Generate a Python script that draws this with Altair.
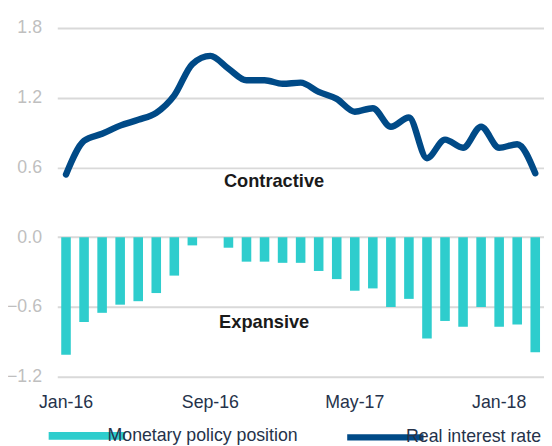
import altair as alt
import pandas as pd

months = ["Jan-16", "Feb-16", "Mar-16", "Apr-16", "May-16", "Jun-16", "Jul-16", "Aug-16",
          "Sep-16", "Oct-16", "Nov-16", "Dec-16", "Jan-17", "Feb-17", "Mar-17", "Apr-17",
          "May-17", "Jun-17", "Jul-17", "Aug-17", "Sep-17", "Oct-17", "Nov-17", "Dec-17",
          "Jan-18", "Feb-18", "Mar-18"]
policy_position = [-1.01, -0.73, -0.65, -0.58, -0.55, -0.48, -0.33, -0.07,
                   None, -0.09, -0.21, -0.21, -0.22, -0.22, -0.29, -0.36,
                   -0.46, -0.44, -0.60, -0.53, -0.87, -0.72, -0.77, -0.60,
                   -0.77, -0.75, -0.99]
real_rate = [0.54, 0.83, 0.89, 0.96, 1.01, 1.07, 1.22, 1.49,
             1.56, 1.45, 1.35, 1.35, 1.32, 1.33, 1.25, 1.19,
             1.08, 1.11, 0.95, 1.03, 0.68, 0.84, 0.77, 0.95,
             0.77, 0.80, 0.55]
tick_labels = ["Jan-16", "Sep-16", "May-17", "Jan-18"]
series_names = ["Monetary policy position", "Real interest rate"]
y_ticks = [-1.2, -0.6, 0.0, 0.6, 1.2, 1.8]
annotations = ["Contractive", "Expansive"]
annotation_y = [0.48, -0.73]

TEAL = "#2ECDCD"
NAVY = "#004A87"
FONT = "Liberation Sans"

df = pd.DataFrame({"month": months, "policy": policy_position, "rate": real_rate})
ann = pd.DataFrame({"label": annotations, "y": annotation_y})

x_enc = alt.X("month:N", sort=months, title=None,
              scale=alt.Scale(paddingInner=0.47, paddingOuter=0.22),
              axis=alt.Axis(values=tick_labels, labelAngle=0, ticks=False, domain=False,
                            labelPadding=31, labelBaseline="alphabetic",
                            labelFontSize=18, labelColor="#25324A", labelFont=FONT,
                            grid=False))
y_scale = alt.Scale(domain=[-1.2, 1.8], nice=False, zero=False)
color_scale = alt.Scale(domain=series_names, range=[TEAL, NAVY])

legend = alt.Legend(
    title=None, orient="none", legendX=21, legendY=405, direction="horizontal",
    symbolType="stroke", symbolSize=6000,
    symbolStrokeWidth=alt.ExprRef(expr="datum.value === 'Real interest rate' ? 6.5 : 8"),
    labelFontSize=18, labelFont=FONT, labelColor="#25324A", labelOffset=12, labelLimit=400,
    columnPadding=36, padding=0,
)
color_enc = alt.Color("series:N", scale=color_scale, legend=legend)

bars = alt.Chart(df).transform_calculate(series=f"'{series_names[0]}'").mark_bar().encode(
    x=x_enc,
    y=alt.Y("policy:Q", scale=y_scale, title=None,
            axis=alt.Axis(values=y_ticks, format=".1f", ticks=False, domain=False,
                          labelPadding=16, labelFontSize=18, labelColor="#BFBFBF",
                          labelFont=FONT, gridColor="#D9D9D9", gridWidth=2)),
    color=color_enc,
)

line = alt.Chart(df).transform_calculate(series=f"'{series_names[1]}'").mark_line(
    strokeWidth=6.5, interpolate="monotone", strokeCap="round", strokeJoin="round").encode(
    x=alt.X("month:N", sort=months),
    y=alt.Y("rate:Q", scale=y_scale),
    color=color_enc,
)

text_style = dict(font=FONT, fontSize=18.5, fontWeight="bold", color="#1A1A1A",
                  align="center", baseline="middle")
text1 = alt.Chart(ann).transform_filter(alt.datum.label == annotations[0]).mark_text(
    **text_style).encode(x=alt.value(220), y=alt.Y("y:Q", scale=y_scale), text="label:N")
text2 = alt.Chart(ann).transform_filter(alt.datum.label == annotations[1]).mark_text(
    **text_style).encode(x=alt.value(210), y=alt.Y("y:Q", scale=y_scale), text="label:N")

chart = alt.layer(bars, line, text1, text2).properties(
    width=494, height=354,
    autosize=alt.AutoSizeParams(type="none"),
    padding={"left": 50, "top": 17, "right": 0, "bottom": 67},
).configure_view(stroke=None)

chart.save("out.html", embed_options={"renderer": "svg", "actions": False})
